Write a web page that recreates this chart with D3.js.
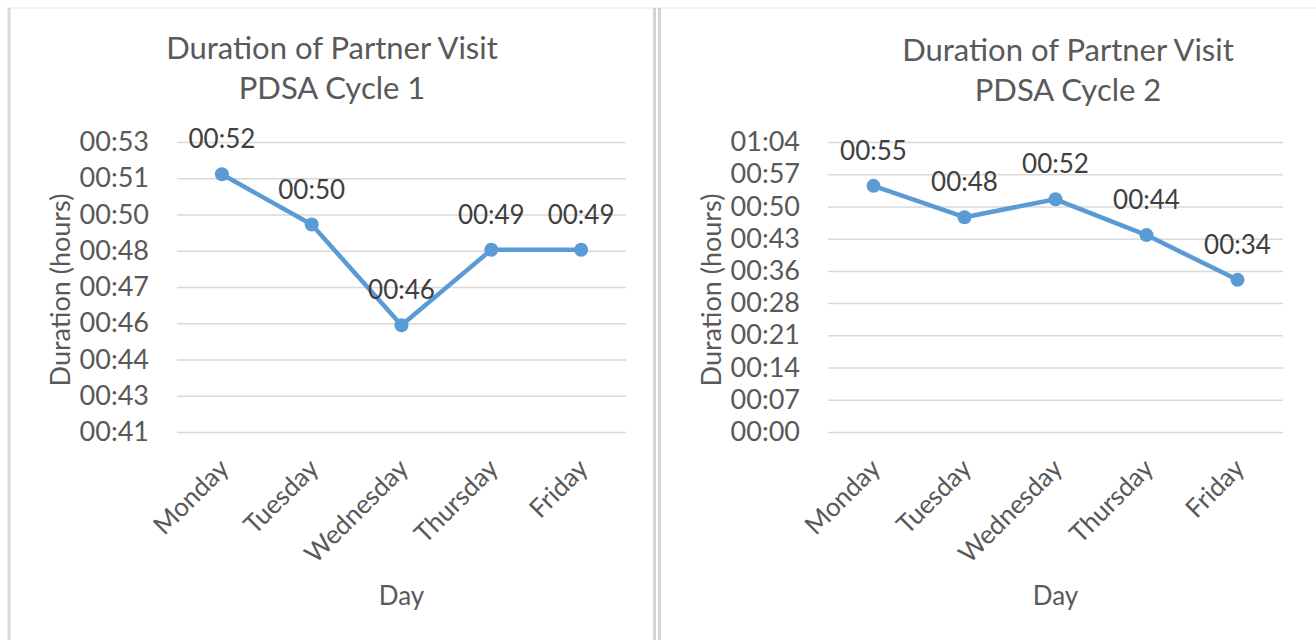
<!DOCTYPE html>
<html lang="en">
<head>
<meta charset="utf-8">
<title>Duration of Partner Visit - PDSA Cycles</title>
<script src="https://d3js.org/d3.v7.min.js"></script>
<style>
    body { margin: 0; background: #fff; }
    svg text { font-family: Lato, "Open Sans", sans-serif; }
    .tick line { stroke: #d9d9d9; stroke-width: 1.5; }
</style>
</head>
<body>
<svg id="chart" width="1316" height="640"></svg>
<script>
// days on the x axis
const days = ['Monday', 'Tuesday', 'Wednesday', 'Thursday', 'Friday'];

// visit durations in minutes
const cycle1Minutes = [52, 50, 46, 49, 49];
const cycle2Minutes = [55, 48, 52, 44, 34];

// axis tick values in minutes (Excel time axis, shown as hh:mm)
const cycle1Ticks = [41.76, 43.2, 44.64, 46.08, 47.52, 48.96, 50.4, 51.84, 53.28];
const cycle2Ticks = [0, 7.2, 14.4, 21.6, 28.8, 36, 43.2, 50.4, 57.6, 64.8];

const titles = [
    ['Duration of Partner Visit', 'PDSA Cycle 1'],
    ['Duration of Partner Visit', 'PDSA Cycle 2']
];

const lineColor = '#5b9bd5';

// truncate minutes to hh:mm like Excel does
function hhmm(m) {
    const total = Math.floor(m + 1e-6);
    const h = Math.floor(total / 60);
    const mm = total % 60;
    return String(h).padStart(2, '0') + ':' + String(mm).padStart(2, '0');
}

const svg = d3.select('#chart');

// frame lines
svg.append('line').attr('x1', 7).attr('x2', 1316).attr('y1', 8).attr('y2', 8)
    .attr('stroke', '#eeeeee').attr('stroke-width', 1.5);
svg.append('line').attr('x1', 9).attr('x2', 9).attr('y1', 8).attr('y2', 640)
    .attr('stroke', '#d9d9d9').attr('stroke-width', 3);
svg.append('line').attr('x1', 654.5).attr('x2', 654.5).attr('y1', 8).attr('y2', 640)
    .attr('stroke', '#d4d4d4').attr('stroke-width', 3);
svg.append('line').attr('x1', 659.5).attr('x2', 659.5).attr('y1', 8).attr('y2', 640)
    .attr('stroke', '#d4d4d4').attr('stroke-width', 3);

function drawChart(opts) {
    const g = svg.append('g');

    const x = d3.scalePoint()
        .domain(days)
        .range([opts.left, opts.right])
        .padding(0.5);
    const y = d3.scaleLinear()
        .domain([opts.ticks[0], opts.ticks[opts.ticks.length - 1]])
        .range([432, 142]);

    // title
    g.append('text')
        .attr('x', opts.titleX).attr('y', opts.titleY)
        .attr('text-anchor', 'middle')
        .attr('fill', '#595959')
        .style('font-size', '31px')
        .text(opts.title[0]);
    g.append('text')
        .attr('x', opts.titleX).attr('y', opts.titleY + 40)
        .attr('text-anchor', 'middle')
        .attr('fill', '#595959')
        .style('font-size', '31px')
        .text(opts.title[1]);

    // y axis with gridlines
    const yAxis = g.append('g')
        .attr('transform', `translate(${opts.left}, 0)`)
        .call(d3.axisLeft(y)
            .tickValues(opts.ticks)
            .tickSize(-(opts.right - opts.left))
            .tickPadding(28)
            .tickFormat(hhmm));
    yAxis.select('.domain').remove();
    yAxis.selectAll('text')
        .attr('fill', '#595959')
        .style('font-size', '27px');

    // x axis
    const xAxis = g.append('g')
        .attr('transform', 'translate(0, 432)')
        .call(d3.axisBottom(x).tickSize(0));
    xAxis.select('.domain').remove();
    xAxis.selectAll('text')
        .attr('y', 0)
        .attr('dy', null)
        .attr('text-anchor', 'end')
        .attr('transform', 'translate(8, 38) rotate(-45)')
        .attr('fill', '#595959')
        .style('font-size', '26px');

    // axis titles
    g.append('text')
        .attr('transform', `translate(${opts.yTitleX}, 290) rotate(-90)`)
        .attr('text-anchor', 'middle')
        .attr('fill', '#595959')
        .style('font-size', '27px')
        .text('Duration (hours)');
    g.append('text')
        .attr('x', (opts.left + opts.right) / 2).attr('y', 605)
        .attr('text-anchor', 'middle')
        .attr('fill', '#595959')
        .style('font-size', '26px')
        .text('Day');

    // line and markers
    const pts = days.map((d, i) => ({day: d, v: opts.values[i]}));
    const line = d3.line()
        .x(d => x(d.day))
        .y(d => y(d.v));
    g.append('path')
        .datum(pts)
        .attr('d', line)
        .attr('fill', 'none')
        .attr('stroke', lineColor)
        .attr('stroke-width', 4.5)
        .attr('stroke-linejoin', 'round');
    g.selectAll('circle')
        .data(pts)
        .join('circle')
        .attr('cx', d => x(d.day))
        .attr('cy', d => y(d.v))
        .attr('r', 7)
        .attr('fill', lineColor);

    // data labels
    g.selectAll('text.label')
        .data(pts)
        .join('text')
        .attr('class', 'label')
        .attr('x', d => x(d.day))
        .attr('y', d => y(d.v) - 26)
        .attr('text-anchor', 'middle')
        .attr('fill', '#404040')
        .style('font-size', '26px')
        .text(d => hhmm(d.v));
}

drawChart({
    left: 177, right: 626,
    ticks: cycle1Ticks, values: cycle1Minutes,
    title: titles[0], titleX: 332, titleY: 59,
    yTitleX: 70
});
drawChart({
    left: 828, right: 1283,
    ticks: cycle2Ticks, values: cycle2Minutes,
    title: titles[1], titleX: 1068, titleY: 61,
    yTitleX: 721
});
</script>
</body>
</html>
